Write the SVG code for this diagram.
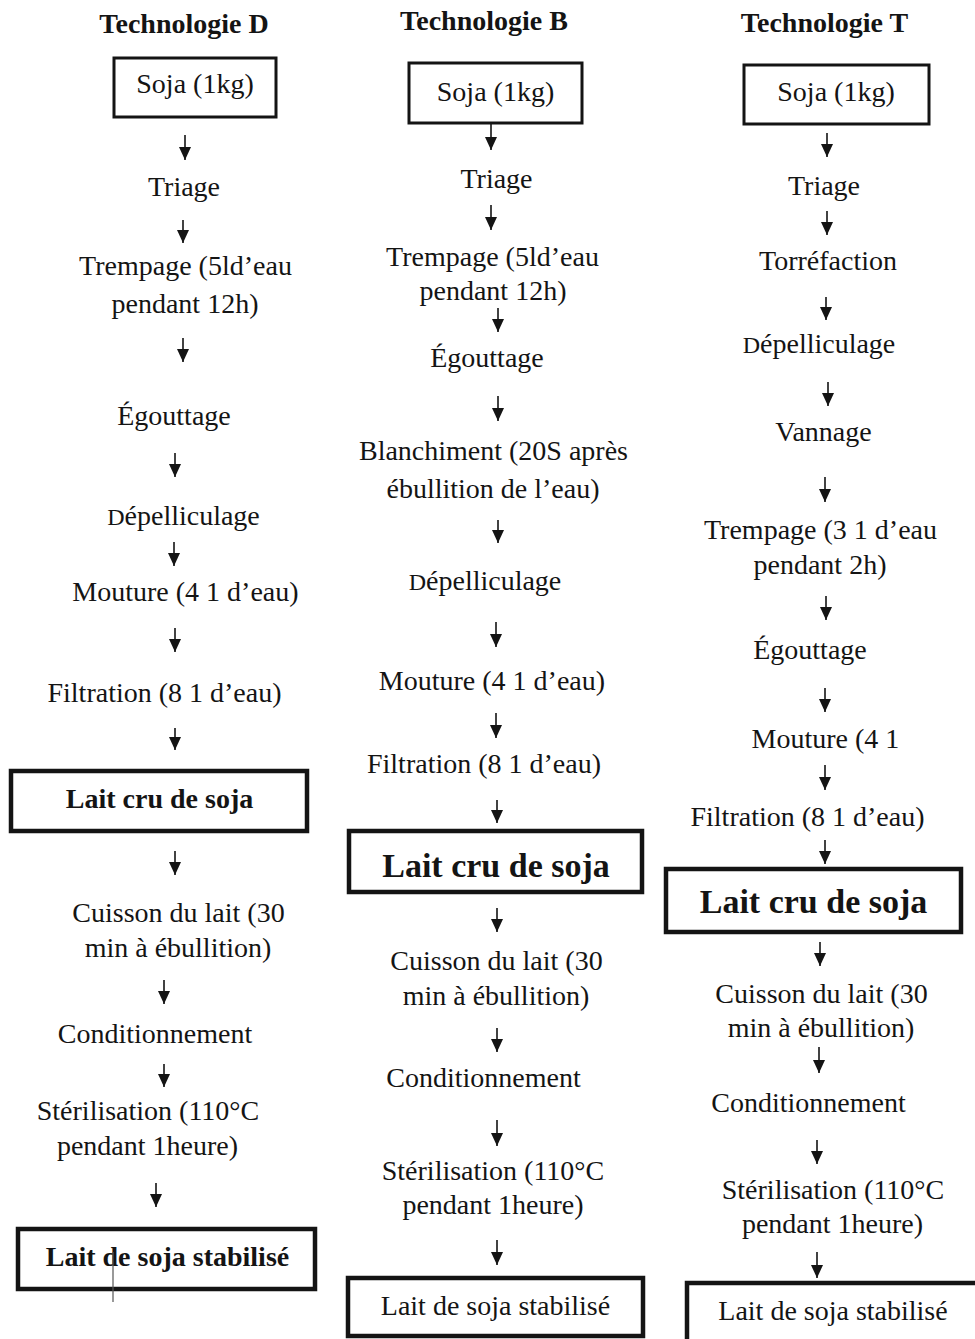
<svg xmlns="http://www.w3.org/2000/svg" width="975" height="1339" viewBox="0 0 975 1339">
<style>
text{font-family:"Liberation Serif","Times New Roman",serif;fill:#141414;text-anchor:middle}
.t{font-size:28px}
.b{font-size:28px;font-weight:bold}
.bb{font-size:34px;font-weight:bold}
.box{fill:#fff;stroke:#141414;stroke-width:3}
.boxk{fill:#fff;stroke:#141414;stroke-width:4.5}
.ar{stroke:#141414;stroke-width:1.6;fill:none;marker-end:url(#ah)}
.sd{font-size:24px}
</style>
<defs>
<marker id="ah" viewBox="0 0 13 12" refX="13" refY="6" markerWidth="13" markerHeight="12" orient="auto" markerUnits="userSpaceOnUse">
<path d="M0,0 L13,6 L0,12 z" fill="#141414"/>
</marker>
</defs>
<rect width="975" height="1339" fill="#fff"/>

<g id="colD">
<g id="D-title"><text class="b" x="184" y="33">Technologie D</text></g>
<g id="D-soja"><rect class="box" x="114" y="58" width="162" height="59"/><text class="t" x="195" y="93">Soja (1kg)</text></g>
<g id="D-triage"><text class="t" x="184" y="196">Triage</text></g>
<g id="D-trempage"><text class="t" x="185.5" y="275">Trempage (5ld’eau</text><text class="t" x="185" y="313">pendant 12h)</text></g>
<g id="D-egouttage"><text class="t" x="174" y="425">Égouttage</text></g>
<g id="D-depell"><text class="t" x="183.5" y="525"><tspan class="sd">D</tspan>épelliculage</text></g>
<g id="D-mouture"><text class="t" x="185.5" y="601">Mouture (4 1 d’eau)</text></g>
<g id="D-filtration"><text class="t" x="164.5" y="702">Filtration (8 1 d’eau)</text></g>
<g id="D-laitcru"><rect class="boxk" x="11" y="771" width="296" height="60"/><text class="b" x="159.5" y="808">Lait cru de soja</text></g>
<g id="D-cuisson"><text class="t" x="178.5" y="922">Cuisson du lait (30</text><text class="t" x="178" y="957">min à ébullition)</text></g>
<g id="D-cond"><text class="t" x="155" y="1043">Conditionnement</text></g>
<g id="D-steril"><text class="t" x="148" y="1120">Stérilisation (110°C</text><text class="t" x="147.5" y="1155">pendant 1heure)</text></g>
<g id="D-stab"><rect class="boxk" x="18" y="1229" width="297" height="60"/><text class="b" x="167.5" y="1266">Lait de soja stabilisé</text><line x1="113" y1="1252" x2="113" y2="1302" stroke="#555" stroke-width="1.2"/></g>
</g>

<g id="colB">
<g id="B-title"><text class="b" x="484" y="30">Technologie B</text></g>
<g id="B-soja"><rect class="box" x="409" y="63" width="173" height="60"/><text class="t" x="495.5" y="101">Soja (1kg)</text></g>
<g id="B-triage"><text class="t" x="496.5" y="188">Triage</text></g>
<g id="B-trempage"><text class="t" x="492.5" y="266">Trempage (5ld’eau</text><text class="t" x="493" y="300">pendant 12h)</text></g>
<g id="B-egouttage"><text class="t" x="487" y="367">Égouttage</text></g>
<g id="B-blanch"><text class="t" x="493.5" y="460">Blanchiment (20S après</text><text class="t" x="493" y="498">ébullition de l’eau)</text></g>
<g id="B-depell"><text class="t" x="485" y="590"><tspan class="sd">D</tspan>épelliculage</text></g>
<g id="B-mouture"><text class="t" x="492" y="690">Mouture (4 1 d’eau)</text></g>
<g id="B-filtration"><text class="t" x="484" y="773">Filtration (8 1 d’eau)</text></g>
<g id="B-laitcru"><rect class="boxk" x="349" y="831" width="293" height="61"/><text class="bb" x="496" y="877">Lait cru de soja</text></g>
<g id="B-cuisson"><text class="t" x="496.5" y="970">Cuisson du lait (30</text><text class="t" x="496" y="1005">min à ébullition)</text></g>
<g id="B-cond"><text class="t" x="483.5" y="1087">Conditionnement</text></g>
<g id="B-steril"><text class="t" x="493" y="1180">Stérilisation (110°C</text><text class="t" x="493" y="1214">pendant 1heure)</text></g>
<g id="B-stab"><rect class="boxk" x="348" y="1278" width="295" height="58"/><text class="t" x="495.5" y="1315">Lait de soja stabilisé</text></g>
</g>

<g id="colT">
<g id="T-title"><text class="b" x="824.5" y="32">Technologie T</text></g>
<g id="T-soja"><rect class="box" x="744" y="65" width="185" height="59"/><text class="t" x="836" y="101">Soja (1kg)</text></g>
<g id="T-triage"><text class="t" x="824" y="195">Triage</text></g>
<g id="T-torref"><text class="t" x="828" y="270">Torréfaction</text></g>
<g id="T-depell"><text class="t" x="819" y="353"><tspan class="sd">D</tspan>épelliculage</text></g>
<g id="T-vannage"><text class="t" x="823.5" y="441">Vannage</text></g>
<g id="T-trempage"><text class="t" x="820.5" y="539">Trempage (3 1 d’eau</text><text class="t" x="820" y="574">pendant 2h)</text></g>
<g id="T-egouttage"><text class="t" x="810" y="659">Égouttage</text></g>
<g id="T-mouture"><text class="t" x="825.5" y="748">Mouture (4 1</text></g>
<g id="T-filtration"><text class="t" x="807.5" y="826">Filtration (8 1 d’eau)</text></g>
<g id="T-laitcru"><rect class="boxk" x="666" y="869" width="295" height="63"/><text class="bb" x="813.5" y="913">Lait cru de soja</text></g>
<g id="T-cuisson"><text class="t" x="821.5" y="1003">Cuisson du lait (30</text><text class="t" x="821" y="1037">min à ébullition)</text></g>
<g id="T-cond"><text class="t" x="808.5" y="1112">Conditionnement</text></g>
<g id="T-steril"><text class="t" x="833" y="1199">Stérilisation (110°C</text><text class="t" x="832.5" y="1233">pendant 1heure)</text></g>
<g id="T-stab"><rect class="boxk" x="687" y="1283" width="300" height="60"/><text class="t" x="833" y="1320">Lait de soja stabilisé</text></g>
</g>

<g id="connectors">
<path class="ar" d="M185,135 V160"/>
<path class="ar" d="M183,220 V243"/>
<path class="ar" d="M183,338 V362"/>
<path class="ar" d="M175,453 V477"/>
<path class="ar" d="M174,542 V566"/>
<path class="ar" d="M175,628 V652"/>
<path class="ar" d="M175,728 V750"/>
<path class="ar" d="M175,851 V875"/>
<path class="ar" d="M164,980 V1004"/>
<path class="ar" d="M164,1064 V1087"/>
<path class="ar" d="M156,1183 V1207"/>

<path class="ar" d="M491,124 V150"/>
<path class="ar" d="M491,205 V230"/>
<path class="ar" d="M498,308 V332"/>
<path class="ar" d="M498,396 V421"/>
<path class="ar" d="M498,520 V543"/>
<path class="ar" d="M496,622 V647"/>
<path class="ar" d="M496,713 V738"/>
<path class="ar" d="M497,800 V823"/>
<path class="ar" d="M497,908 V932"/>
<path class="ar" d="M497,1028 V1052"/>
<path class="ar" d="M497,1120 V1146"/>
<path class="ar" d="M497,1240 V1265"/>

<path class="ar" d="M827,133 V157"/>
<path class="ar" d="M827,211 V235"/>
<path class="ar" d="M826,297 V320"/>
<path class="ar" d="M828,382 V406"/>
<path class="ar" d="M825,477 V502"/>
<path class="ar" d="M826,596 V620"/>
<path class="ar" d="M825,688 V712"/>
<path class="ar" d="M825,765 V790"/>
<path class="ar" d="M825,840 V864"/>
<path class="ar" d="M820,942 V966"/>
<path class="ar" d="M819,1047 V1073"/>
<path class="ar" d="M817,1140 V1164"/>
<path class="ar" d="M817,1252 V1278"/>
</g>
</svg>
